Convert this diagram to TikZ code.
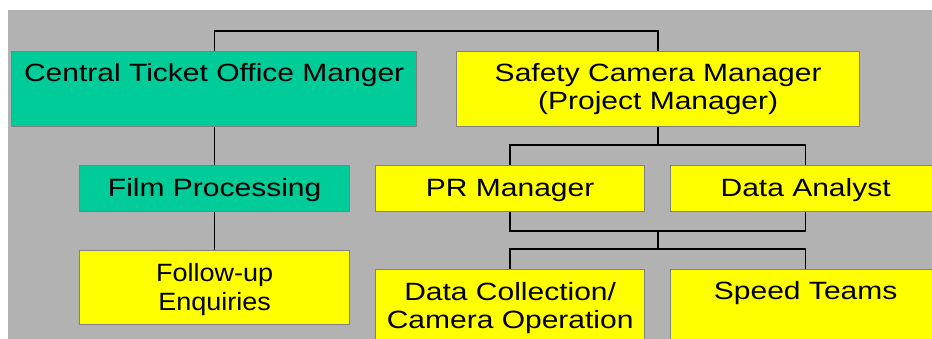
\documentclass[tikz,border=0pt]{standalone}
\usepackage{fontspec}
\setmainfont{Liberation Sans}[FakeStretch=1.2]
\newfontfamily\narrowfont{Liberation Sans}[FakeStretch=1.08]
\definecolor{bggray}{HTML}{B2B2B2}
\definecolor{teal}{HTML}{00CC99}
\definecolor{yel}{HTML}{FFFF00}
\definecolor{edge}{HTML}{808080}
\begin{document}
\begin{tikzpicture}[x=1pt,y=-1pt,
  box/.style={draw=edge, line width=1.3pt, rectangle, inner sep=0pt, anchor=north west},
  gbox/.style={box, fill=teal},
  ybox/.style={box, fill=yel},
  txt/.style={anchor=base, inner sep=0pt, font=\fontsize{25}{28.5}\selectfont},
  conn/.style={draw=black, line width=1.4pt}]
\useasboundingbox (0,0) rectangle (932,339);
\clip (0,0) rectangle (932,339);
\fill[bggray] (8,10) rectangle (940,345);

% boxes
\node[gbox, minimum width=405pt, minimum height=75pt] (cto) at (11,51) {};
\node[ybox, minimum width=403pt, minimum height=75pt] (scm) at (456,51) {};
\node[gbox, minimum width=270pt, minimum height=46pt] (film) at (79,165) {};
\node[ybox, minimum width=270pt, minimum height=74pt] (fue) at (79,250) {};
\node[ybox, minimum width=269pt, minimum height=46pt] (pr) at (375,165) {};
\node[ybox, minimum width=270pt, minimum height=46pt] (da) at (670,165) {};
\node[ybox, minimum width=269pt, minimum height=80pt] (dc) at (375,269) {};
\node[ybox, minimum width=270pt, minimum height=80pt] (st) at (670,269) {};

% texts
\node[txt] (ctot) at (cto.north |- 0,82) {Central Ticket Office Manger};
\node[txt] (scmt1) at (scm.north |- 0,82) {Safety Camera Manager};
\node[txt] (scmt2) at (scm.north |- 0,110) {(Project Manager)};
\node[txt] (filmt) at (film.north |- 0,196.5) {Film Processing};
\node[txt] (prt) at (pr.north |- 0,196.5) {PR Manager};
\node[txt] (dat) at (da.north |- 0,196.5) {Data Analyst};
\node[txt, font=\narrowfont\fontsize{25}{28.5}\selectfont] (fuet1) at (fue.north |- 0,281.5) {Follow-up};
\node[txt, font=\narrowfont\fontsize{25}{28.5}\selectfont] (fuet2) at (fue.north |- 0,310) {Enquiries};
\node[txt] (dct1) at (dc.north |- 0,300) {Data Collection/};
\node[txt] (dct2) at (dc.north |- 0,328.5) {Camera Operation};
\node[txt] (stt) at (st.north |- 0,299) {Speed Teams};

% junctions
\coordinate (j1) at (scm.south |- 0,145);
\coordinate (j2) at (scm.south |- 0,231);
\coordinate (j3) at (scm.south |- 0,249);

% connectors
\draw[conn] (film.north |- cto.north) -- ++(0,-20) -| (scm.north);
\draw[conn] (film.north |- cto.south) -- (film.north);
\draw[conn] (film.south) -- (fue.north);
\draw[conn] (scm.south) -- (j1);
\draw[conn] (pr.north) |- (j1) -| (da.north);
\draw[conn] (pr.south) |- (j2) -| (da.south);
\draw[conn] (j2) -- (j3);
\draw[conn] (dc.north) |- (j3) -| (st.north);
\end{tikzpicture}
\end{document}
